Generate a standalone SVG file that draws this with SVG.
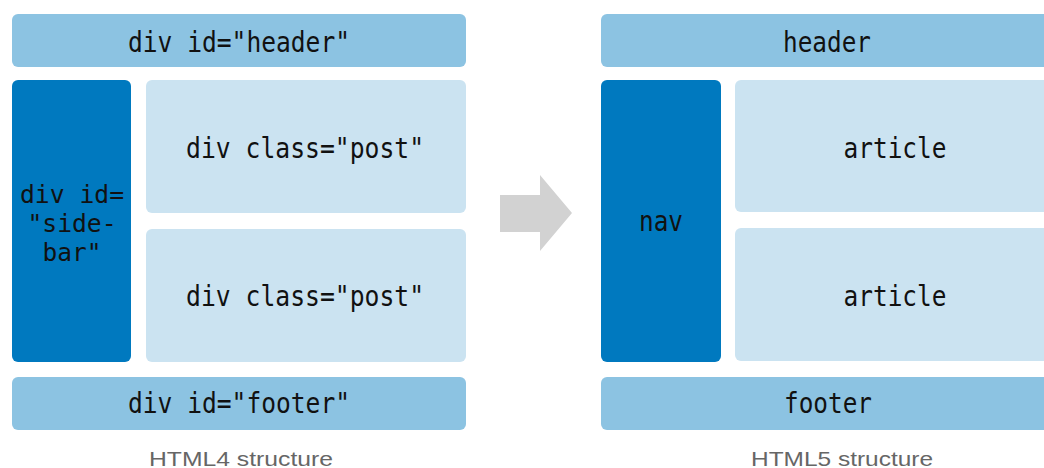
<svg xmlns="http://www.w3.org/2000/svg" width="1044" height="468" viewBox="0 0 1044 468">
<style>
.bar{fill:#8cc3e2}
.side{fill:#0079bf}
.post{fill:#cbe3f1}
.t{font-family:"DejaVu Sans Mono","Liberation Mono",monospace;font-size:28px;fill:#111;text-anchor:middle}
.s{font-size:25px}
.cap{font-family:"Liberation Sans",Arial,sans-serif;font-size:21px;fill:#666;text-anchor:middle}
</style>
<rect width="1044" height="468" fill="#ffffff"/>
<g id="html4">
<g id="div-header"><rect class="bar" x="12" y="14" width="454" height="53" rx="6"/><text class="t" x="239" y="52" textLength="222" lengthAdjust="spacingAndGlyphs">div id="header"</text></g>
<g id="div-sidebar"><rect class="side" x="12" y="80" width="119" height="282" rx="6"/>
<text class="t s" x="72" y="203" textLength="104" lengthAdjust="spacingAndGlyphs">div id=</text>
<text class="t s" x="72" y="232" textLength="89" lengthAdjust="spacingAndGlyphs">"side-</text>
<text class="t s" x="72" y="261" textLength="59" lengthAdjust="spacingAndGlyphs">bar"</text></g>
<g id="div-post1"><rect class="post" x="146" y="80" width="320" height="133" rx="6"/><text class="t" x="305" y="158" textLength="238" lengthAdjust="spacingAndGlyphs">div class="post"</text></g>
<g id="div-post2"><rect class="post" x="146" y="229" width="320" height="133" rx="6"/><text class="t" x="305" y="306" textLength="238" lengthAdjust="spacingAndGlyphs">div class="post"</text></g>
<g id="div-footer"><rect class="bar" x="12" y="377" width="454" height="53" rx="6"/><text class="t" x="239" y="413" textLength="222" lengthAdjust="spacingAndGlyphs">div id="footer"</text></g>
<text class="cap" x="241" y="466" textLength="184" lengthAdjust="spacingAndGlyphs">HTML4 structure</text>
</g>
<g id="connectors">
<polygon points="500,195 540,195 540,175 572,213 540,251 540,232 500,232" fill="#d2d2d2"/>
</g>
<g id="html5">
<g id="header"><rect class="bar" x="601" y="14" width="460" height="53" rx="6"/><text class="t" x="827" y="52" textLength="88" lengthAdjust="spacingAndGlyphs">header</text></g>
<g id="nav"><rect class="side" x="601" y="80" width="120" height="282" rx="6"/><text class="t" x="661" y="231" textLength="44" lengthAdjust="spacingAndGlyphs">nav</text></g>
<g id="article1"><rect class="post" x="735" y="80" width="330" height="132" rx="6"/><text class="t" x="895" y="158" textLength="103" lengthAdjust="spacingAndGlyphs">article</text></g>
<g id="article2"><rect class="post" x="735" y="228" width="330" height="133" rx="6"/><text class="t" x="895" y="306" textLength="103" lengthAdjust="spacingAndGlyphs">article</text></g>
<g id="footer"><rect class="bar" x="601" y="377" width="460" height="53" rx="6"/><text class="t" x="828" y="413" textLength="88" lengthAdjust="spacingAndGlyphs">footer</text></g>
<text class="cap" x="842" y="466" textLength="182" lengthAdjust="spacingAndGlyphs">HTML5 structure</text>
</g>
</svg>
